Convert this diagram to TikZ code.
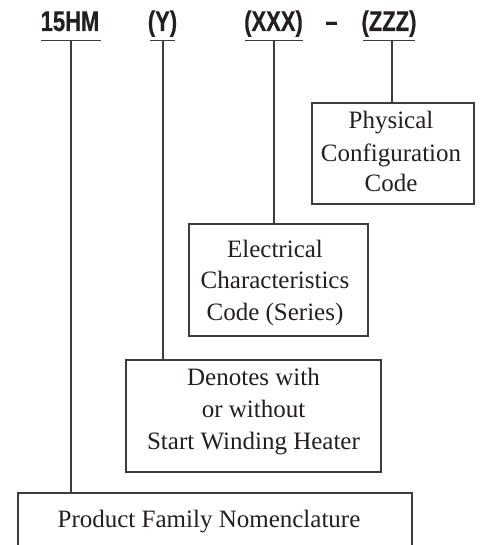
\documentclass[tikz,border=0pt]{standalone}
\usepackage{fontspec}
\setmainfont{Liberation Serif}
\newfontfamily\hdrfont[BoldFeatures={FakeBold=0.6}]{Liberation Sans}
\definecolor{ink}{HTML}{231F20}
\definecolor{linec}{HTML}{3C3C3C}
\newcommand{\hdrtxt}[1]{\scalebox{0.77}[1]{\hdrfont\bfseries\fontsize{28.5}{28.5}\selectfont #1}}
\begin{document}
\begin{tikzpicture}[x=1pt,y=-1pt,
  hdr/.style={anchor=base,inner sep=0pt,text=ink},
  uline/.style={draw=linec,line width=1pt},
  conn/.style={draw=linec,line width=1.4pt},
  boxn/.style={draw=linec,line width=1.4pt,rectangle,inner sep=0pt},
  lbl/.style={anchor=base,inner sep=0pt,text=ink,font=\fontsize{25}{31.5}\selectfont}]
\useasboundingbox (0,0) rectangle (479,545);
\clip (0,0) rectangle (479,545);
% header codes
\node[hdr] (h1) at (70,31) {\hdrtxt{15HM}};
\node[hdr] (h2) at (162.5,31) {\hdrtxt{(Y)}};
\node[hdr] (h3) at (273.5,31) {\hdrtxt{(XXX)}};
\node[hdr] (hd) at (331.5,31) {\hdrtxt{–}};
\node[hdr] (h4) at (389,31) {\hdrtxt{(ZZZ)}};
% underlines
\draw[uline] (41,41) -- (101,41);
\draw[uline] (150,41) -- (175,41);
\draw[uline] (245,41) -- (303,41);
\draw[uline] (363,41) -- (415,41);
\coordinate (c1) at (71,41);
\coordinate (c2) at (163,41);
\coordinate (c3) at (274,41);
\coordinate (c4) at (392,41);
% boxes
\node[boxn,minimum width=162pt,minimum height=101pt] (phys) at (393,153.5) {};
\node[boxn,minimum width=179pt,minimum height=112pt] (elec) at (278.5,280) {};
\node[boxn,minimum width=255pt,minimum height=112pt] (den) at (253.5,416) {};
\node[boxn,minimum width=394pt,minimum height=120pt] (prod) at (215,553) {};
% connectors
\draw[conn] (c4) -- (c4 |- phys.north);
\draw[conn] (c3) -- (c3 |- elec.north);
\draw[conn] (c2) -- (c2 |- den.north);
\draw[conn] (c1) -- (c1 |- prod.north);
% texts
\node[lbl] (p1) at (391,129) {Physical};
\node[lbl] (p2) at (391,162) {Configuration};
\node[lbl] (p3) at (391,192) {Code};
\node[lbl] (e1) at (275,257) {Electrical};
\node[lbl] (e2) at (275,288) {Characteristics};
\node[lbl] (e3) at (275,320) {Code (Series)};
\node[lbl] (d1) at (253.5,385) {Denotes with};
\node[lbl] (d2) at (253.5,417) {or without};
\node[lbl] (d3) at (253.5,449) {Start Winding Heater};
\node[lbl] (pf) at (209,527) {Product Family Nomenclature};
\end{tikzpicture}
\end{document}
